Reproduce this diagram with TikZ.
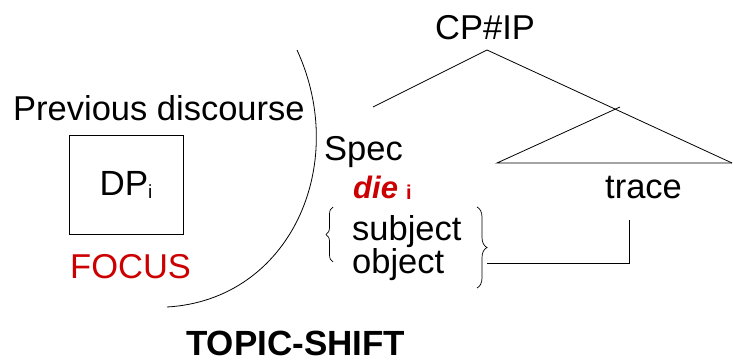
\documentclass[tikz,border=0pt]{standalone}
\usepackage{fontspec}
\setmainfont{Liberation Sans}
\usetikzlibrary{decorations.pathreplacing}
\definecolor{focusred}{RGB}{204,0,0}
\tikzset{
  txt/.style={inner sep=0pt, anchor=base west, font=\fontsize{34.5}{36}\selectfont},
  ln/.style={line width=0.8pt, black},
  brc/.style={line width=0.7pt, decorate, decoration={brace, amplitude=#1}},
}
\begin{document}
\begin{tikzpicture}[x=1pt,y=-1pt]
\useasboundingbox (0,0) rectangle (733,361);
% left side
\node[txt] (prev) at (13,120) {Previous discourse};
\node[ln, draw, minimum width=114pt, minimum height=99pt, inner sep=0pt,
      font=\fontsize{35}{36}\selectfont] (box) at (126,184.5)
      {DP{\fontsize{19}{19}\selectfont\raisebox{-3pt}{i}}};
\node[txt, text=focusred] (focus) at (70,278) {FOCUS};
\node[txt, font=\fontsize{35}{36}\selectfont\bfseries] (shift) at (186,355) {TOPIC-SHIFT};
\coordinate (arcA) at (297,50);
\coordinate (arcB) at (167,307);
\draw[ln] (arcA) .. controls (350,165) and (290,300) .. (arcB);
% tree
\node[txt, anchor=base] (cp) at (485,40) {CP\#IP};
\coordinate (apex) at (487,50);
\coordinate (lend) at (373,107);
\coordinate (rend) at (732,163);
\coordinate (ttop) at (620,107);
\coordinate (tleft) at (497,163);
\draw[ln] (apex) -- (lend);
\draw[ln] (apex) -- (rend);
\draw[ln] (ttop) -- (tleft) -- (rend);
\node[txt] (spec) at (324,160) {Spec};
\node[txt, text=focusred, font=\fontsize{31}{32}\selectfont\bfseries\itshape] (die) at (353,198) {die};
\node[txt, text=focusred, font=\fontsize{20}{20}\selectfont\bfseries] (dsub) at (406,199) {i};
\node[txt] (trace) at (605,198) {trace};
\node[txt] (subj) at (352,240) {subject};
\node[txt] (obj) at (352,273) {object};
\coordinate (lbB) at (333,262);
\coordinate (lbT) at (333,207);
\draw[brc=7pt] (lbB) -- (lbT);
\coordinate (rbT) at (477,207);
\coordinate (rbB) at (477,288);
\draw[brc=10pt] (rbT) -- (rbB);
\coordinate (cstart) at (487,263);
\coordinate (cend) at (629,220);
\draw[ln] (cstart) -| (cend);
\end{tikzpicture}
\end{document}
